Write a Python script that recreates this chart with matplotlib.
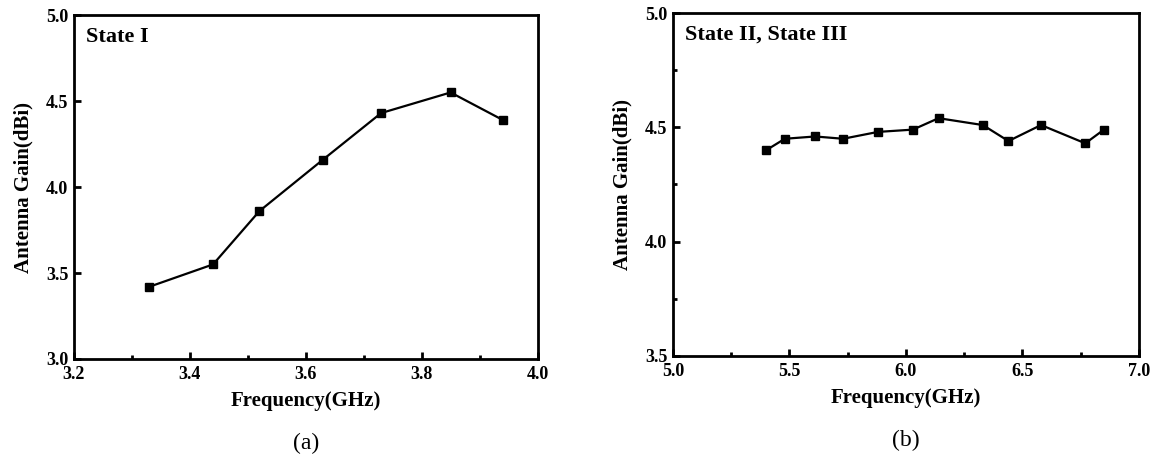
import matplotlib
matplotlib.use("Agg")
import matplotlib.pyplot as plt
from matplotlib.ticker import MultipleLocator

plt.rcParams['font.family'] = ['Liberation Serif', 'DejaVu Serif']

freq_a = [3.33, 3.44, 3.52, 3.63, 3.73, 3.85, 3.94]
gain_a = [3.42, 3.55, 3.86, 4.16, 4.43, 4.55, 4.39]

freq_b = [5.40, 5.48, 5.61, 5.73, 5.88, 6.03, 6.14, 6.33, 6.44, 6.58, 6.77, 6.85]
gain_b = [4.40, 4.45, 4.46, 4.45, 4.48, 4.49, 4.54, 4.51, 4.44, 4.51, 4.43, 4.49]

fig = plt.figure(figsize=(11.56, 4.61), dpi=100)
ax1 = fig.add_axes([0.064, 0.2213, 0.401, 0.746])
ax2 = fig.add_axes([0.5822, 0.2278, 0.403, 0.744])

def style(ax, xlim, ylim, xmaj, xmin, ymaj, ymin, title, sub):
    ax.set_xlim(*xlim)
    ax.set_ylim(*ylim)
    ax.xaxis.set_major_locator(MultipleLocator(xmaj))
    ax.xaxis.set_minor_locator(MultipleLocator(xmin))
    ax.yaxis.set_major_locator(MultipleLocator(ymaj))
    if ymin:
        ax.yaxis.set_minor_locator(MultipleLocator(ymin))
    for s in ax.spines.values():
        s.set_linewidth(2.0)
    ax.tick_params(which='both', direction='in', width=2.0, labelsize=13)
    ax.tick_params(axis='x', pad=5)
    ax.tick_params(axis='y', pad=4)
    ax.tick_params(which='major', length=5)
    ax.tick_params(which='minor', length=3)
    for lab in ax.get_xticklabels() + ax.get_yticklabels():
        lab.set_fontweight('bold')
    ax.set_xlabel('Frequency(GHz)', fontsize=15, fontweight='bold', labelpad=6)
    ax.set_ylabel('Antenna Gain(dBi)', fontsize=15, fontweight='bold', labelpad=9)
    ax.text(0.025, 0.965, title, transform=ax.transAxes, fontsize=16,
            fontweight='bold', va='top', ha='left')
    ax.text(0.5, -0.215, sub, transform=ax.transAxes, fontsize=17,
            va='top', ha='center')

ax1.plot(freq_a, gain_a, color='black', lw=1.6, marker='s', ms=6)
style(ax1, (3.2, 4.0), (3.0, 5.0), 0.2, 0.1, 0.5, None, 'State I', '(a)')

ax2.plot(freq_b, gain_b, color='black', lw=1.6, marker='s', ms=6)
style(ax2, (5.0, 7.0), (3.5, 5.0), 0.5, 0.25, 0.5, 0.25, 'State II, State III', '(b)')

fig.savefig('out.png', dpi=100)
